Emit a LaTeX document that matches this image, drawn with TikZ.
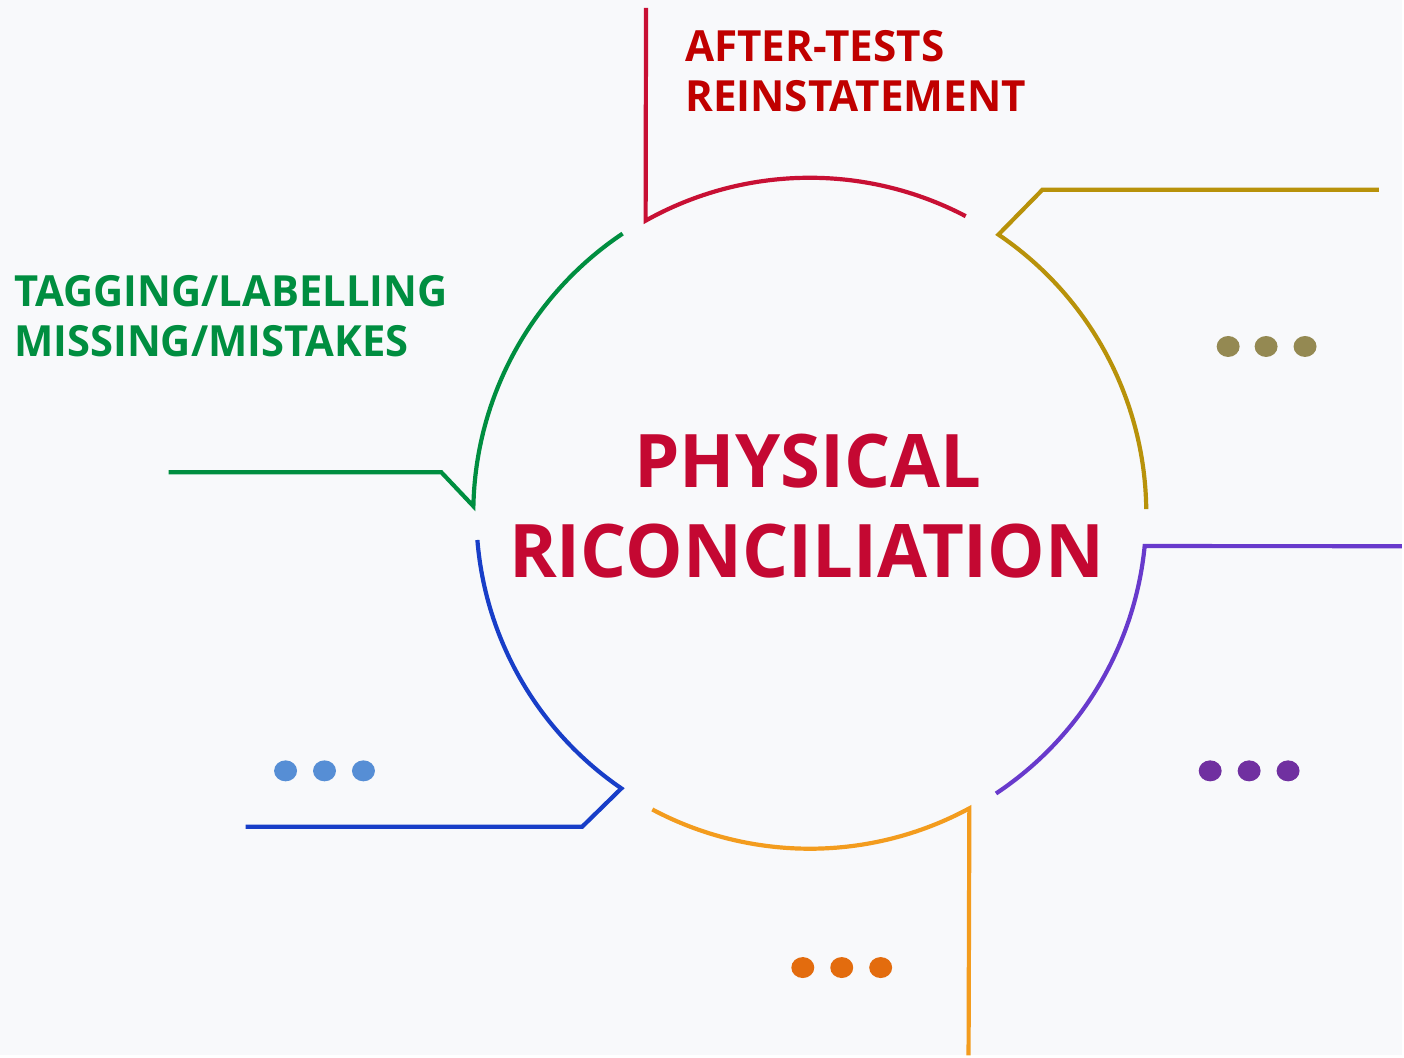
\documentclass[tikz,border=0pt]{standalone}
\usepackage{fontspec}
\usetikzlibrary{shapes.geometric}
\setmainfont{Open Sans}
\definecolor{bg}{RGB}{248,249,251}
\definecolor{redline}{RGB}{200,16,52}
\definecolor{redtext}{RGB}{192,0,0}
\definecolor{titlered}{RGB}{196,8,50}
\definecolor{goldline}{RGB}{184,146,10}
\definecolor{golddot}{RGB}{148,137,82}
\definecolor{purpleline}{RGB}{104,58,204}
\definecolor{purpledot}{RGB}{112,48,160}
\definecolor{orangeline}{RGB}{243,156,30}
\definecolor{orangedot}{RGB}{227,108,14}
\definecolor{blueline}{RGB}{24,62,200}
\definecolor{bluedot}{RGB}{86,142,213}
\definecolor{greenline}{RGB}{0,142,64}
\newcommand{\narrowtxt}[2]{\scalebox{#1}[1]{#2}}
\begin{document}
\begin{tikzpicture}[x=1pt,y=-1pt,
  seg/.style={line width=4.2pt},
  dot/.style={ellipse,minimum width=23pt,minimum height=21pt,inner sep=0pt},
  lbl/.style={anchor=base west,inner sep=0pt,font=\fontsize{43}{50}\selectfont\bfseries},
  ttl/.style={anchor=base,inner sep=0pt,font=\fontsize{74}{90}\selectfont\bfseries,text=titlered}]
\fill[bg] (0,0) rectangle (1404,1057);
\coordinate (c) at (811,514);
% red
\path (c) ++(-119.3:336) coordinate (r1);
\coordinate (r0) at (647,8);
\draw[seg,redline,line join=miter] (r0) -- (r1) arc[start angle=-119.3,end angle=-62.3,radius=336];
% gold
\path (c) ++(-55.9:337) coordinate (g1);
\coordinate (g2) at (1044,190);
\coordinate (g3) at (1381,190);
\draw[seg,goldline] (g3) -- (g2) -- (g1) arc[start angle=-55.9,end angle=-0.7,radius=337];
% purple
\path (c) ++(5.6:337) coordinate (p1);
\coordinate (p2) at (1404,547);
\draw[seg,purpleline] (p2) -- (p1) arc[start angle=5.6,end angle=56.4,radius=337];
% orange
\path (c) ++(61.6:336) coordinate (o1);
\coordinate (o2) at (970,1057);
\draw[seg,orangeline] (o2) -- (o1) arc[start angle=61.6,end angle=118,radius=336];
% blue
\path (c) ++(124.4:334) coordinate (b1);
\coordinate (b2) at (583,828);
\coordinate (b3) at (246,828);
\draw[seg,blueline] (b3) -- (b2) -- (b1) arc[start angle=124.4,end angle=175.4,radius=334];
% green
\path (c) ++(181.2:337) coordinate (gr1);
\coordinate (gr2) at (442,473);
\coordinate (gr3) at (169,473);
\draw[seg,greenline] (gr3) -- (gr2) -- (gr1) arc[start angle=181.2,end angle=236.2,radius=337];
% labels
\node[lbl,text=redtext] (t1) at (686,62) {\narrowtxt{0.983}{AFTER-TESTS}};
\node[lbl,text=redtext] (t2) at (686,112) {\narrowtxt{0.983}{REINSTATEMENT}};
\node[lbl,text=greenline] (t3) at (14,307) {\narrowtxt{0.971}{TAGGING/LABELLING}};
\node[lbl,text=greenline] (t4) at (14,357) {\narrowtxt{0.971}{MISSING/MISTAKES}};
\node[ttl] (h1) at (809,488) {\narrowtxt{0.98}{PHYSICAL}};
\node[ttl] (h2) at (808,578) {\narrowtxt{0.98}{RICONCILIATION}};
% dots
\foreach \i/\x in {1/1230,2/1268,3/1307} \node[dot,fill=golddot] (gd\i) at (\x,347) {};
\foreach \i/\x in {1/286,2/325,3/364} \node[dot,fill=bluedot] (bd\i) at (\x,772) {};
\foreach \i/\x in {1/1212,2/1251,3/1290} \node[dot,fill=purpledot] (pd\i) at (\x,772) {};
\foreach \i/\x in {1/804,2/843,3/882} \node[dot,fill=orangedot] (od\i) at (\x,969) {};
\end{tikzpicture}
\end{document}
